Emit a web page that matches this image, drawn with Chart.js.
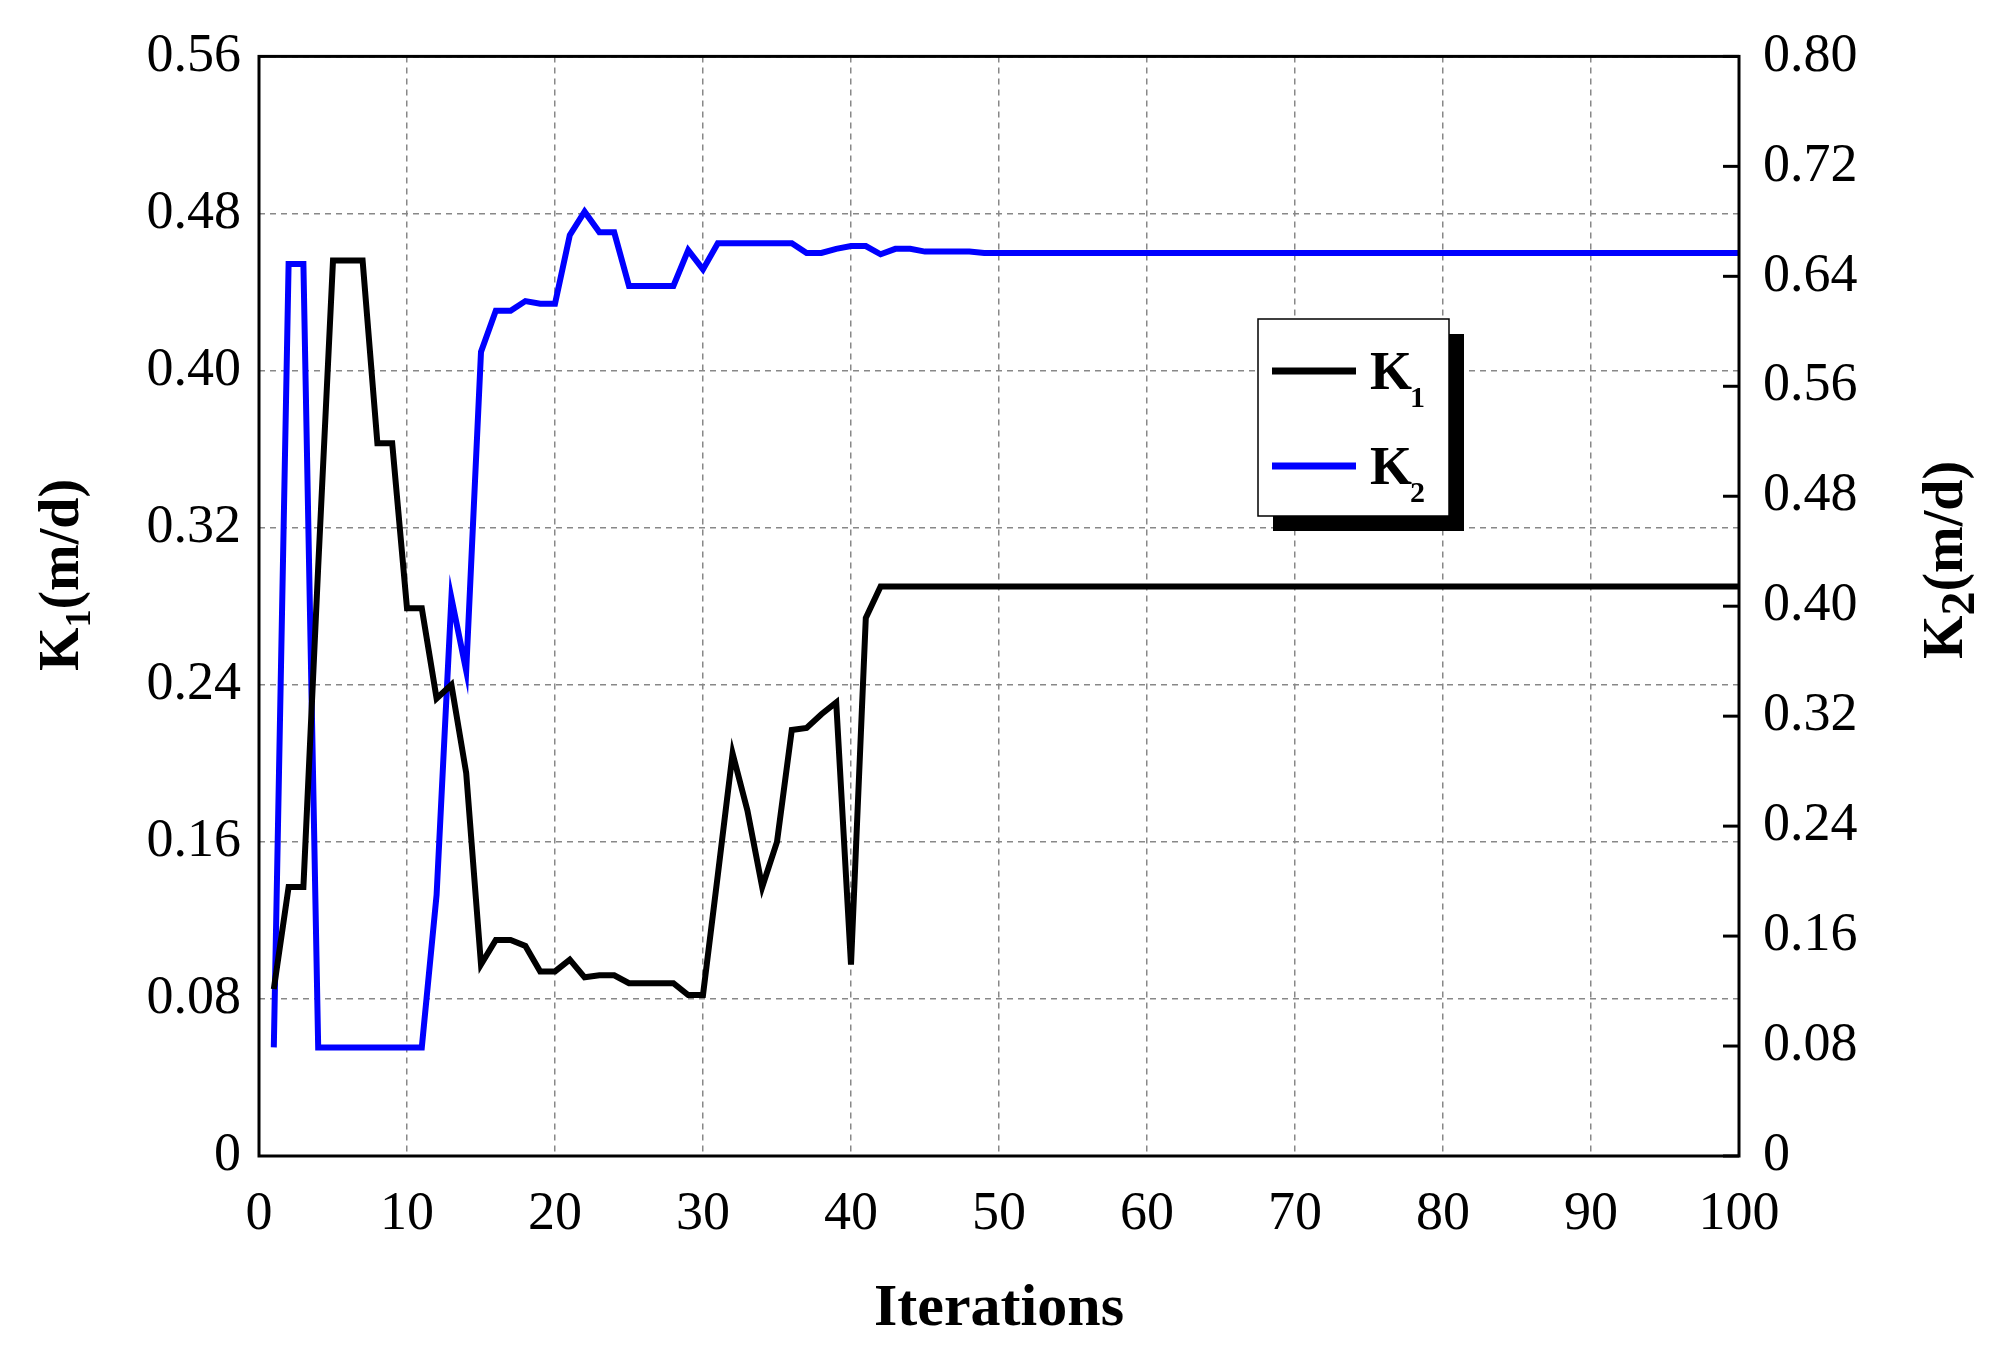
<!DOCTYPE html>
<html><head><meta charset="utf-8">
<script src="https://cdn.jsdelivr.net/npm/chart.js@4/dist/chart.umd.min.js"></script>
<style>html,body{margin:0;padding:0;background:#fff}#c{display:block}</style>
</head><body>
<div style="width:2008px;height:1349px"><canvas id="c" width="2008" height="1349"></canvas></div>
<script>
const iterations = Array.from({length:100},(_,i)=>i+1);
const k1Head = [0.085,0.137,0.137,0.30,0.456,0.456,0.456,0.363,0.363,0.279,0.279,0.233,0.240,0.195,0.0975,0.110,0.110,0.107,0.094,0.094,0.100,0.091,0.092,0.092,0.088,0.088,0.088,0.088,0.082,0.082,0.143,0.205,0.176,0.137,0.160,0.217,0.218,0.225,0.231,0.0975,0.274];
const k1Tail = 0.290;
const k2Head = [0.079,0.649,0.649,0.079,0.079,0.079,0.079,0.079,0.079,0.079,0.079,0.190,0.406,0.353,0.585,0.615,0.615,0.622,0.620,0.620,0.670,0.687,0.672,0.672,0.633,0.633,0.633,0.633,0.659,0.645,0.664,0.664,0.664,0.664,0.664,0.664,0.657,0.657,0.660,0.662,0.662,0.656,0.660,0.660,0.658,0.658,0.658,0.658];
const k2Tail = 0.657;
const k1 = iterations.map((x,i)=> i<k1Head.length ? k1Head[i] : k1Tail);
const k2 = iterations.map((x,i)=> i<k2Head.length ? k2Head[i] : k2Tail);
const xTicks = [0,10,20,30,40,50,60,70,80,90,100];
const leftTicks = [0,0.08,0.16,0.24,0.32,0.40,0.48,0.56];
const rightTicks = [0,0.08,0.16,0.24,0.32,0.40,0.48,0.56,0.64,0.72,0.80];

const FONT = "'Liberation Serif','Times New Roman',serif";
const fmt = v => v===0 ? '0' : v.toFixed(2);

function drawK(ctx, x, y, sub, size, align){
  ctx.save();
  ctx.font = `bold ${size}px ${FONT}`;
  const w1 = ctx.measureText('K').width;
  ctx.font = `${size*0.6}px ${FONT}`;
  const w2 = ctx.measureText(sub).width;
  ctx.restore();
  return [w1,w2];
}

const deco = {
  id:'deco',
  afterDraw(chart){
    const ctx = chart.ctx, a = chart.chartArea;
    const yR = chart.scales.yR;
    ctx.save();
    // right tick marks (inward)
    ctx.strokeStyle='#000'; ctx.lineWidth=3;
    rightTicks.forEach(v=>{const y=yR.getPixelForValue(v);ctx.beginPath();ctx.moveTo(a.right-16,y);ctx.lineTo(a.right,y);ctx.stroke();});
    // frame
    ctx.lineWidth=3; ctx.strokeRect(a.left,a.top,a.right-a.left,a.bottom-a.top);
    // axis titles with subscripts
    function vtitle(cx,cy,sub,subSize){
      ctx.save(); ctx.translate(cx,cy); ctx.rotate(-Math.PI/2);
      ctx.fillStyle='#000'; ctx.textBaseline='alphabetic';
      ctx.font=`bold 56px ${FONT}`; const wK=ctx.measureText('K').width;
      const wR=ctx.measureText('(m/d)').width;
      ctx.font=`bold ${subSize}px ${FONT}`; const wS=ctx.measureText(sub).width;
      let x=-(wK+wS+wR)/2;
      ctx.font=`bold 56px ${FONT}`; ctx.fillText('K',x,20); x+=wK;
      ctx.font=`bold ${subSize}px ${FONT}`; ctx.fillText(sub,x,32); x+=wS;
      ctx.font=`bold 56px ${FONT}`; ctx.fillText('(m/d)',x,20);
      ctx.restore();
    }
    vtitle(58,575,'1',36);
    vtitle(1942,560,'2',48);
    // legend
    const lx=1258,ly=319,lw=191,lh=197;
    ctx.fillStyle='#000'; ctx.fillRect(lx+15,ly+15,lw,lh);
    ctx.fillStyle='#fff'; ctx.fillRect(lx,ly,lw,lh);
    ctx.lineWidth=1.5; ctx.strokeStyle='#000'; ctx.strokeRect(lx,ly,lw,lh);
    const items=[['#000','1',ly+52],['#0000ff','2',ly+147]];
    items.forEach(([c,s,y])=>{
      ctx.strokeStyle=c; ctx.lineWidth=7; ctx.beginPath(); ctx.moveTo(lx+14,y); ctx.lineTo(lx+98,y); ctx.stroke();
      ctx.fillStyle='#000'; ctx.font=`bold 54px ${FONT}`; ctx.textBaseline='alphabetic';
      ctx.fillText('K',lx+112,y+18);
      ctx.font=`bold 30px ${FONT}`; ctx.fillText(s,lx+152,y+36);
    });
    ctx.restore();
  }
};

new Chart(document.getElementById('c'),{
  type:'line',
  data:{labels:iterations,datasets:[
    {label:'K2',data:k2,yAxisID:'yR',borderColor:'#0000ff',borderWidth:6,pointRadius:0,tension:0,order:2},
    {label:'K1',data:k1,yAxisID:'yL',borderColor:'#000',borderWidth:6,pointRadius:0,tension:0,order:1}
  ]},
  options:{
    responsive:false,animation:false,
    layout:{padding:{top:49,left:0,right:0,bottom:0}},
    plugins:{legend:{display:false},tooltip:{enabled:false}},
    scales:{
      x:{type:'linear',min:0,max:100,
        afterBuildTicks:s=>{s.ticks=xTicks.map(v=>({value:v}));},
        afterFit:s=>{s.height=193;},
        ticks:{font:{family:FONT,size:54},color:'#000',padding:26,maxRotation:0},
        grid:{color:'#888',lineWidth:1.5,tickLength:0,drawTicks:false},
        border:{display:false,dash:[6,5]},
        title:{display:true,text:'Iterations',font:{family:FONT,size:60,weight:'bold'},color:'#000',padding:{top:0}}
      },
      yL:{position:'left',min:0,max:0.56,
        afterBuildTicks:s=>{s.ticks=leftTicks.map(v=>({value:v}));},
        afterFit:s=>{s.width=259;},
        ticks:{font:{family:FONT,size:54},color:'#000',padding:18,callback:v=>fmt(v)},
        grid:{color:'#888',lineWidth:1.5,drawTicks:false},
        border:{display:false,dash:[6,5]}
      },
      yR:{position:'right',min:0,max:0.80,
        afterBuildTicks:s=>{s.ticks=rightTicks.map(v=>({value:v}));},
        afterFit:s=>{s.width=269;},
        ticks:{font:{family:FONT,size:54},color:'#000',padding:24,callback:v=>fmt(v)},
        grid:{display:false,drawTicks:false},
        border:{display:false}
      }
    }
  },
  plugins:[deco]
});
</script>
</body></html>
